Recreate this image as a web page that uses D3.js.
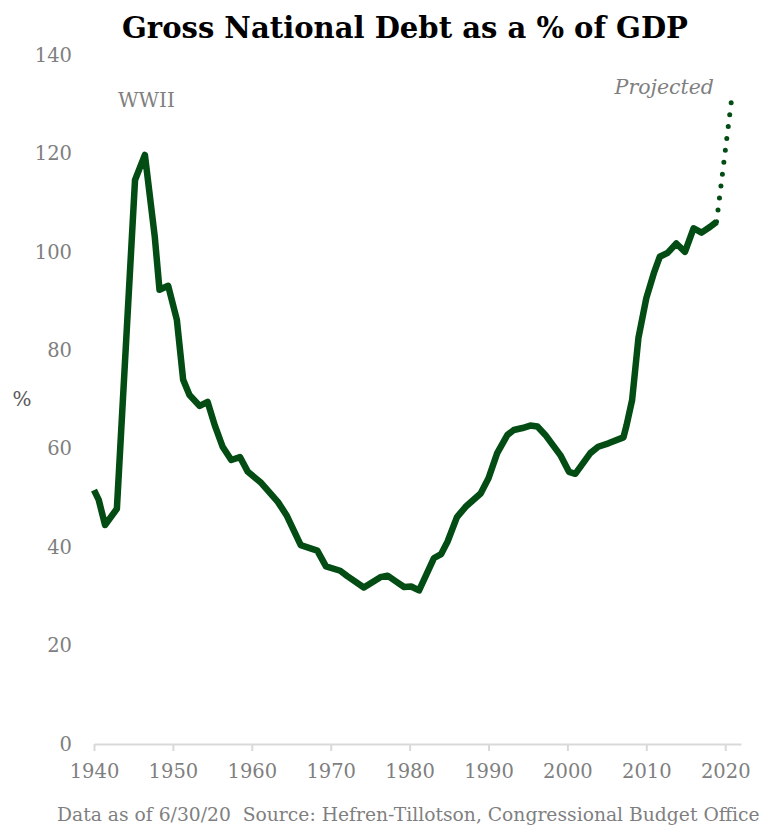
<!DOCTYPE html>
<html>
<head>
<meta charset="utf-8">
<script src="https://cdn.jsdelivr.net/npm/d3@7"></script>
<style>
  body { margin: 0; background: #fff; }
  text { font-family: Georgia, "DejaVu Serif", serif; }
</style>
</head>
<body>
<div id="chart"></div>
<script>
// values
const years = [1940.0, 1940.6, 1941.4, 1942.9, 1945.2, 1946.45, 1947.7, 1948.3, 1949.4, 1950.5,
  1951.3, 1952.1, 1953.4, 1954.4, 1955.3, 1956.3, 1957.4, 1958.5, 1959.5, 1961.1,
  1963.3, 1964.4, 1966.2, 1968.3, 1969.4, 1971.2, 1972.1, 1974.2, 1976.3, 1977.2,
  1978.3, 1979.3, 1980.2, 1981.2, 1983.1, 1984.0, 1984.8, 1986.0, 1987.1, 1989.0,
  1990.0, 1991.1, 1992.4, 1993.2, 1994.3, 1995.3, 1996.2, 1997.2, 1999.1, 2000.2,
  2001.0, 2002.9, 2003.9, 2005.2, 2007.1, 2007.5, 2008.2, 2009.0, 2010.0, 2011.0,
  2011.7, 2012.7, 2013.8, 2014.9, 2016.0, 2017.0, 2018.1, 2018.9];
const debtPct = [51.6, 49.6, 44.5, 47.8, 114.6, 119.7, 103.1, 92.3, 93.1, 86.2,
  74.0, 70.9, 68.7, 69.5, 64.8, 60.4, 57.7, 58.3, 55.3, 53.2,
  49.2, 46.5, 40.4, 39.3, 36.1, 35.2, 34.1, 31.8, 33.9, 34.2,
  33.0, 31.9, 32.0, 31.2, 37.8, 38.6, 41.1, 46.1, 48.2, 50.9,
  54.0, 59.1, 62.8, 63.8, 64.2, 64.7, 64.5, 62.8, 58.7, 55.3,
  54.9, 59.1, 60.4, 61.1, 62.3, 64.8, 69.9, 82.5, 90.6, 95.9,
  99.0, 99.8, 101.7, 100.0, 104.8, 103.9, 105.1, 106.1];

const projYears = [2018.9, 2020.8];
const projPct = [106.1, 130.9];

const xTicks = [1940, 1950, 1960, 1970, 1980, 1990, 2000, 2010, 2020];
const yTicks = [0, 20, 40, 60, 80, 100, 120, 140];

const width = 771;
const height = 827;
const green = '#034d14';
const grey = '#7f7f7f';

const svg = d3.select('#chart')
  .append('svg')
  .attr('width', width)
  .attr('height', height);

const x = d3.scaleLinear()
  .domain([1940, 2022])
  .range([94, 741]);

const y = d3.scaleLinear()
  .domain([0, 140])
  .range([744, 55]);

// shrink or grow a text so it spans a given width
function fitText(sel, target) {
  const w = sel.node().getComputedTextLength();
  const fs = parseFloat(sel.style('font-size'));
  sel.style('font-size', (fs * target / w) + 'px');
}

const title = svg.append('text')
  .attr('x', 405)
  .attr('y', 38)
  .attr('text-anchor', 'middle')
  .style('font-size', '30px')
  .style('font-weight', 'bold')
  .style('fill', '#000')
  .text('Gross National Debt as a % of GDP');
fitText(title, 566);

// y axis: labels only
const yAxis = svg.append('g')
  .attr('transform', 'translate(80,0)')
  .call(d3.axisLeft(y).tickValues(yTicks).tickSize(0).tickPadding(8));
yAxis.select('.domain').remove();
yAxis.selectAll('text')
  .style('font-family', 'Georgia, "DejaVu Serif", serif')
  .style('font-size', '19.5px')
  .style('fill', grey);

svg.append('text')
  .attr('x', 22)
  .attr('y', 406)
  .attr('text-anchor', 'middle')
  .style('font-size', '20px')
  .style('fill', '#595959')
  .text('%');

// x axis
const xAxis = svg.append('g')
  .attr('transform', `translate(0,${y(0)})`)
  .call(d3.axisBottom(x).tickValues(xTicks).tickFormat(d3.format('d'))
    .tickSizeInner(7).tickSizeOuter(0).tickPadding(13));
xAxis.select('.domain')
  .attr('stroke', '#d9d9d9')
  .attr('stroke-width', 2);
xAxis.selectAll('line')
  .attr('stroke', '#d9d9d9')
  .attr('stroke-width', 2);
xAxis.selectAll('text')
  .style('font-family', 'Georgia, "DejaVu Serif", serif')
  .style('font-size', '19.5px')
  .style('fill', grey);

const line = d3.line()
  .x(d => x(d[0]))
  .y(d => y(d[1]));

svg.append('path')
  .datum(years.map((yr, i) => [yr, debtPct[i]]))
  .attr('fill', 'none')
  .attr('stroke', green)
  .attr('stroke-width', 6.5)
  .attr('stroke-linejoin', 'round')
  .attr('d', line);

svg.append('path')
  .datum(projYears.map((yr, i) => [yr, projPct[i]]))
  .attr('fill', 'none')
  .attr('stroke', green)
  .attr('stroke-width', 5)
  .attr('stroke-linecap', 'round')
  .attr('stroke-dasharray', '0 12')
  .attr('d', line);

svg.append('text')
  .attr('x', 118)
  .attr('y', 107)
  .style('font-size', '20px')
  .style('fill', grey)
  .text('WWII');

svg.append('text')
  .attr('x', 714)
  .attr('y', 94)
  .attr('text-anchor', 'end')
  .style('font-size', '20.5px')
  .style('font-style', 'italic')
  .style('fill', grey)
  .text('Projected');

const caption = svg.append('text')
  .attr('x', 57)
  .attr('y', 821)
  .style('font-size', '17px')
  .style('fill', grey)
  .text('Data as of 6/30/20  Source: Hefren-Tillotson, Congressional Budget Office');
caption.attr('xml:space', 'preserve').style('white-space', 'pre');
fitText(caption, 703);
</script>
</body>
</html>
